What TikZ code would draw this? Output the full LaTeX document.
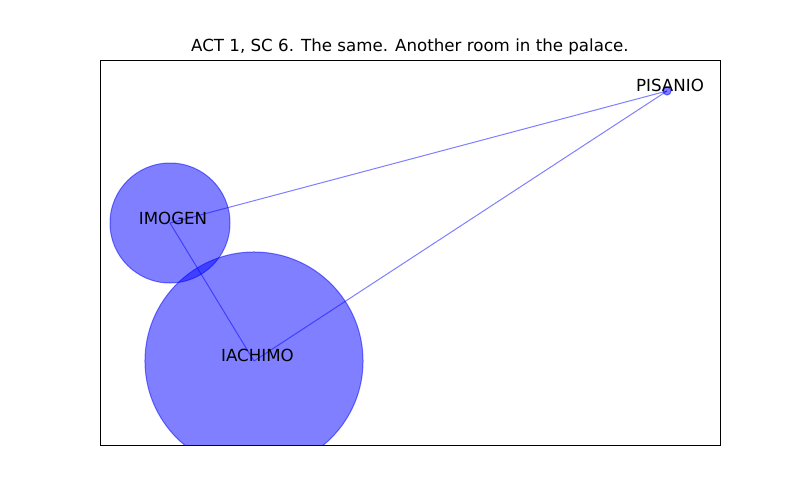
\documentclass[tikz,border=0pt]{standalone}
\usepackage{fontspec}
\setmainfont{DejaVu Sans}
\usetikzlibrary{positioning}

\begin{document}
\begin{tikzpicture}[x=0.72pt ,y=-0.72pt ,
char/.style ={ circle ,fill=blue ,fill opacity=0.5 ,
draw=blue ,draw opacity=0.5 ,inner sep=0pt ,line width=0.72pt},
charlabel/.style ={ anchor=base ,text=black ,font=\fontsize{12}{14}\selectfont},
link/.style ={ draw=blue ,draw opacity=0.5 ,line width=0.72pt}]
\useasboundingbox (0,0) rectangle (800,500);
\begin{scope}
\clip (100,60) rectangle (720,445);
\node[char, minimum size=86.4pt] (IM) at (170,223) {};
\node[char, minimum size=157pt] (IA) at (254,361) {};
\node[char, minimum size=5.8pt] (PI) at (667,91) {};
\draw[link] (IM.center) -- (PI.center);
\draw[link] (IM.center) -- (IA.center);
\draw[link] (IA.center) -- (PI.center);
\end{scope}
\node[charlabel] (IMl) at (173,224) {IMOGEN};
\node[charlabel] (IAl) at (257.5,361) {IACHIMO};
\node[charlabel] (PIl) at (670,91) {PISANIO};
\draw[line width=0.6pt] (100,60) rectangle (720,445);
\node[charlabel] (title) at (410,51) {ACT 1, SC 6. The same. Another room in the palace.};
\end{tikzpicture}
\end{document}
